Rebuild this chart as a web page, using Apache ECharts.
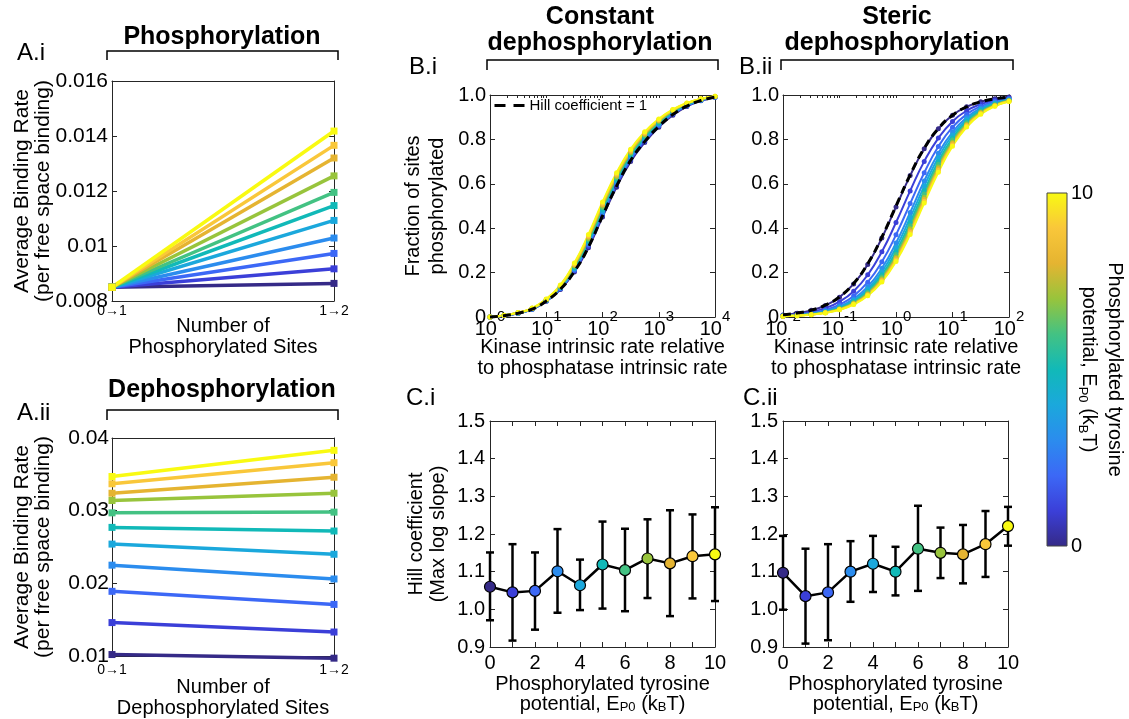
<!DOCTYPE html>
<html><head><meta charset="utf-8">
<script src="https://cdn.jsdelivr.net/npm/echarts@6/dist/echarts.min.js"></script>
<style>html,body{margin:0;padding:0;background:#fff}#c{width:1129px;height:719px}</style>
</head><body><div id="c"></div>
<script>
const FONT = "'Liberation Sans', Arial, Helvetica, sans-serif";

// ---------- data ----------
const ep0Values = [0,1,2,3,4,5,6,7,8,9,10];
const parulaColors = ['#352a87','#3b3fd8','#3c68f6','#2b8cee','#1ba8dc','#11b9b8','#43c283','#98c43c','#e5b431','#f9c73a','#f9fa12'];
const transitionLabels = ['0\u21921','1\u21922'];

const phosRateStart = [0.0085,0.0085,0.0085,0.0085,0.0085,0.0085,0.0085,0.0085,0.0085,0.0085,0.0085];
const phosRateEnd   = [0.00864,0.00917,0.00973,0.01029,0.01093,0.01147,0.01195,0.01255,0.0132,0.01366,0.01418];
const dephosRateStart = [0.0102,0.0146,0.0189,0.0225,0.0254,0.0277,0.0297,0.0314,0.0324,0.0337,0.0347];
const dephosRateEnd   = [0.0097,0.0133,0.0171,0.0206,0.0240,0.0272,0.0298,0.0324,0.0346,0.0366,0.0383];

const kinaseRatioConst  = [1,1.78,3.16,5.62,10,17.8,31.6,56.2,100,178,316,562,1000,1780,3160,5620,10000];
const kinaseRatioSteric = [0.01,0.0178,0.0316,0.0562,0.1,0.178,0.316,0.562,1,1.78,3.16,5.62,10,17.8,31.6,56.2,100];

// minor (log) tick positions on the top edge of the B panels
const logTicksConst  = [1,2,3,4,5,6,7,8,9,10,20,30,40,50,60,70,80,90,100,200,300,400,500,600,700,800,900,1000,2000,3000,4000,5000,6000,7000,8000,9000,10000];
const logTicksSteric = [0.01,0.02,0.03,0.04,0.05,0.06,0.07,0.08,0.09,0.1,0.2,0.3,0.4,0.5,0.6,0.7,0.8,0.9,1,2,3,4,5,6,7,8,9,10,20,30,40,50,60,70,80,90,100];

const fracConstHill1 = [0.000,0.006,0.017,0.035,0.072,0.125,0.205,0.315,0.455,0.590,0.705,0.790,0.858,0.912,0.950,0.975,0.990];
const fracConst = [
 [0.000,0.006,0.017,0.035,0.071,0.124,0.203,0.312,0.450,0.585,0.700,0.786,0.855,0.909,0.948,0.974,0.990],
 [0.000,0.006,0.017,0.035,0.072,0.126,0.207,0.318,0.457,0.592,0.706,0.791,0.859,0.912,0.950,0.975,0.990],
 [0.000,0.006,0.017,0.036,0.073,0.128,0.211,0.324,0.464,0.599,0.712,0.796,0.863,0.915,0.952,0.976,0.991],
 [0.000,0.006,0.018,0.036,0.074,0.130,0.215,0.330,0.471,0.606,0.718,0.801,0.867,0.918,0.954,0.977,0.991],
 [0.000,0.007,0.018,0.037,0.075,0.132,0.219,0.336,0.478,0.613,0.724,0.806,0.871,0.921,0.956,0.978,0.992],
 [0.000,0.007,0.018,0.037,0.076,0.134,0.223,0.342,0.485,0.620,0.730,0.811,0.875,0.924,0.958,0.979,0.992],
 [0.000,0.007,0.019,0.038,0.077,0.136,0.227,0.348,0.492,0.626,0.736,0.816,0.879,0.927,0.960,0.980,0.993],
 [0.000,0.007,0.019,0.038,0.078,0.138,0.231,0.354,0.499,0.632,0.741,0.821,0.883,0.929,0.961,0.981,0.993],
 [0.000,0.007,0.019,0.039,0.079,0.140,0.235,0.360,0.506,0.638,0.746,0.826,0.886,0.931,0.962,0.982,0.993],
 [0.000,0.007,0.020,0.039,0.080,0.142,0.239,0.366,0.512,0.644,0.751,0.830,0.889,0.933,0.963,0.982,0.994],
 [0.000,0.008,0.020,0.040,0.081,0.144,0.243,0.372,0.518,0.650,0.756,0.834,0.892,0.935,0.964,0.983,0.994]
];

const fracStericHill1 = [0.0099,0.0175,0.0307,0.0532,0.0909,0.151,0.240,0.360,0.500,0.640,0.760,0.849,0.909,0.947,0.969,0.983,0.990];
const fracSteric = [
 [0.0095,0.0170,0.0300,0.0522,0.0893,0.149,0.237,0.356,0.496,0.637,0.758,0.848,0.909,0.947,0.970,0.983,0.991],
 [0.0074,0.0130,0.0229,0.0400,0.0690,0.1164,0.1898,0.294,0.4255,0.568,0.701,0.806,0.881,0.929,0.959,0.977,0.987],
 [0.0058,0.0104,0.0183,0.0320,0.0556,0.0947,0.1568,0.2486,0.370,0.511,0.650,0.768,0.855,0.913,0.949,0.971,0.983],
 [0.0050,0.0088,0.0156,0.0273,0.0476,0.0816,0.1365,0.2195,0.3333,0.4706,0.6126,0.7376,0.8333,0.8989,0.9405,0.9657,0.9804],
 [0.0045,0.0080,0.0142,0.0249,0.0435,0.0748,0.1257,0.2036,0.3125,0.4470,0.5897,0.7188,0.8197,0.8899,0.9350,0.9623,0.9785],
 [0.0041,0.0074,0.0130,0.0229,0.0400,0.0690,0.1164,0.1898,0.2941,0.4256,0.5685,0.7009,0.8065,0.8811,0.9295,0.9591,0.9766],
 [0.0039,0.0069,0.0122,0.0216,0.0377,0.0652,0.1103,0.1807,0.2817,0.4108,0.5536,0.6880,0.7968,0.8746,0.9254,0.9566,0.9751],
 [0.0037,0.0065,0.0116,0.0204,0.0357,0.0618,0.1048,0.1724,0.2703,0.3971,0.5394,0.6756,0.7874,0.8682,0.9213,0.9542,0.9737],
 [0.0036,0.0063,0.0112,0.0197,0.0345,0.0597,0.1015,0.1672,0.2632,0.3884,0.5304,0.6676,0.7813,0.8639,0.9187,0.9526,0.9728],
 [0.0034,0.0061,0.0108,0.0190,0.0333,0.0578,0.0983,0.1624,0.2564,0.3801,0.5216,0.6597,0.7752,0.8598,0.9160,0.9510,0.9718],
 [0.0033,0.0059,0.0104,0.0184,0.0323,0.0560,0.0954,0.1579,0.2500,0.3721,0.5131,0.6521,0.7692,0.8556,0.9133,0.9494,0.9709]
];

const hillConstMean = [1.060,1.045,1.049,1.101,1.064,1.119,1.104,1.135,1.122,1.141,1.146];
const hillConstLow  = [0.971,0.917,0.946,0.991,0.998,1.002,0.995,1.030,0.982,1.029,1.022];
const hillConstHigh = [1.151,1.173,1.151,1.213,1.132,1.233,1.214,1.239,1.263,1.252,1.271];
const hillStericMean = [1.097,1.035,1.045,1.100,1.121,1.100,1.161,1.150,1.146,1.173,1.221];
const hillStericLow  = [0.999,0.909,0.918,1.020,1.046,1.037,1.049,1.083,1.069,1.086,1.169];
const hillStericHigh = [1.195,1.161,1.173,1.181,1.195,1.166,1.275,1.217,1.224,1.261,1.272];

const colorbarRange = [0, 10];

// ---------- helpers ----------
const AXC = '#262626';
const LINE = {show:true, onZero:false, lineStyle:{color:AXC, width:1}};
const TICK = {show:true, inside:true, length:5, lineStyle:{color:AXC, width:1}};
function axisPair(dim, gi, scale, label, name, mirrorTick){
  const pos = dim === 'x' ? ['bottom','top'] : ['left','right'];
  const main = Object.assign({gridIndex:gi, position:pos[0], axisLine:LINE, axisTick:TICK, splitLine:{show:false},
    nameMoveOverlap:false,
    axisLabel:Object.assign({color:'#000', fontFamily:FONT}, label)}, scale, name || {});
  const mirror = Object.assign({gridIndex:gi, position:pos[1], axisLine:LINE, axisTick:mirrorTick || TICK, splitLine:{show:false},
    axisLabel:{show:false}}, scale);
  return [main, mirror];
}
function nameCfg(text, gap, rotate, lh, size){
  return {name:text, nameLocation:'middle', nameGap:gap, nameRotate:rotate, nameMoveOverlap:false,
    nameTextStyle:{fontFamily:FONT, fontSize:size || 20, lineHeight:lh, color:'#000',
      rich:{s:{fontFamily:FONT, fontSize:13, lineHeight:13, verticalAlign:'bottom', color:'#000'}}}};
}
const supLabel = {margin:-8,
  formatter: v => '{b|10}{s|' + Math.round(Math.log10(v)) + '}',
  rich:{b:{fontFamily:FONT, fontSize:20, lineHeight:30, verticalAlign:'bottom', color:'#000'},
        s:{fontFamily:FONT, fontSize:15, lineHeight:15, verticalAlign:'top', color:'#000'}}};
const fracFmt = v => v === 0 ? '0' : v.toFixed(1);
const kinaseName = 'Kinase intrinsic rate relative\nto phosphatase intrinsic rate';
const ep0Name = 'Phosphorylated tyrosine\npotential, E{s|P0} (k{s|B}T)';
const rateName = 'Average Binding Rate\n(per free space binding)';
const logTopTick = vals => ({show:true, inside:true, length:3, customValues:vals, lineStyle:{color:AXC, width:1}});

const xAxes = [
  ...axisPair('x',0,{type:'category', data:transitionLabels, boundaryGap:false}, {fontSize:14, margin:3}, nameCfg('Number of\nPhosphorylated Sites',15,0,21)),
  ...axisPair('x',1,{type:'category', data:transitionLabels, boundaryGap:false}, {fontSize:14, margin:7}, nameCfg('Number of\nDephosphorylated Sites',21,0,21)),
  ...axisPair('x',2,{type:'log', logBase:10, min:1, max:10000}, supLabel, nameCfg(kinaseName,20,0,21), logTopTick(logTicksConst)),
  ...axisPair('x',3,{type:'log', logBase:10, min:0.01, max:100}, supLabel, nameCfg(kinaseName,20,0,21), logTopTick(logTicksSteric)),
  ...axisPair('x',4,{type:'value', min:0, max:10, interval:1}, {fontSize:20, margin:6, formatter:v => v % 2 === 0 ? String(v) : ''}, nameCfg(ep0Name,27,0,20)),
  ...axisPair('x',5,{type:'value', min:0, max:10, interval:1}, {fontSize:20, margin:6, formatter:v => v % 2 === 0 ? String(v) : ''}, nameCfg(ep0Name,27,0,20)),
  {gridIndex:6, type:'value', min:0, max:1, show:false}
];
const yAxes = [
  ...axisPair('y',0,{type:'value', min:0.008, max:0.016, interval:0.002}, {fontSize:21, margin:4, formatter:v => String(+v.toFixed(4))}, nameCfg(rateName,58,90,21,21)),
  ...axisPair('y',1,{type:'value', min:0.01, max:0.04, interval:0.01}, {fontSize:21, margin:3, formatter:v => String(+v.toFixed(4))}, nameCfg(rateName,58,90,21,21)),
  ...axisPair('y',2,{type:'value', min:0, max:1, interval:0.2}, {fontSize:20, margin:4, formatter:fracFmt}, nameCfg('Fraction of sites\nphosphorylated',41,90,24)),
  ...axisPair('y',3,{type:'value', min:0, max:1, interval:0.2}, {fontSize:20, margin:4, formatter:fracFmt}),
  ...axisPair('y',4,{type:'value', min:0.9, max:1.5, interval:0.1}, {fontSize:20, margin:5, formatter:v => v.toFixed(1)}, nameCfg('Hill coefficient\n(Max log slope)',41,90,22)),
  ...axisPair('y',5,{type:'value', min:0.9, max:1.5, interval:0.1}, {fontSize:20, margin:5, formatter:v => v.toFixed(1)}),
  Object.assign({gridIndex:6, type:'value', min:colorbarRange[0], max:colorbarRange[1], interval:10, position:'right',
    axisLine:{show:false}, axisTick:{show:false}, splitLine:{show:false},
    axisLabel:{fontSize:20, margin:4, color:'#000', fontFamily:FONT}}, nameCfg(ep0Name,9,-90,26))
];

const series = [];
// A.i / A.ii
ep0Values.forEach((e,k) => {
  const c = parulaColors[k];
  series.push({type:'line', name:'EP0 '+e, xAxisIndex:0, yAxisIndex:0, data:[phosRateStart[k], phosRateEnd[k]],
    symbol:'rect', symbolSize:7, lineStyle:{width:3.5, color:c}, itemStyle:{color:c}, clip:false});
  series.push({type:'line', name:'EP0 '+e, xAxisIndex:2, yAxisIndex:2, data:[dephosRateStart[k], dephosRateEnd[k]],
    symbol:'rect', symbolSize:7, lineStyle:{width:3.5, color:c}, itemStyle:{color:c}, clip:false});
});
// B.i / B.ii
function fracSeries(xi, xs, vals, k){
  const c = parulaColors[k];
  return {type:'line', name:'EP0 '+ep0Values[k], xAxisIndex:xi, yAxisIndex:xi, data:xs.map((x,i) => [x, vals[i]]),
    smooth:true, symbol:'circle', symbolSize:5, lineStyle:{width:2, color:c}, itemStyle:{color:c}, clip:false};
}
fracConst.forEach((v,k) => series.push(fracSeries(4, kinaseRatioConst, v, k)));
fracSteric.forEach((v,k) => series.push(fracSeries(6, kinaseRatioSteric, v, k)));
series.push({type:'line', name:'Hill coefficient = 1', xAxisIndex:4, yAxisIndex:4, data:kinaseRatioConst.map((x,i) => [x, fracConstHill1[i]]),
  smooth:true, symbol:'none', lineStyle:{width:3, color:'#000', type:[8,5]}, itemStyle:{color:'#000'}, clip:false, z:5});
series.push({type:'line', name:'Hill coefficient = 1', xAxisIndex:6, yAxisIndex:6, data:kinaseRatioSteric.map((x,i) => [x, fracStericHill1[i]]),
  smooth:true, symbol:'none', lineStyle:{width:3, color:'#000', type:[8,5]}, itemStyle:{color:'#000'}, clip:false, z:5});
// C.i / C.ii
function renderErrorBar(params, api){
  const x = api.value(0);
  const lo = api.coord([x, api.value(1)]), hi = api.coord([x, api.value(2)]);
  const w = 4, st = {stroke:'#000', lineWidth:2.5};
  return {type:'group', children:[
    {type:'line', shape:{x1:lo[0], y1:lo[1], x2:hi[0], y2:hi[1]}, style:st},
    {type:'line', shape:{x1:lo[0]-w, y1:lo[1], x2:lo[0]+w, y2:lo[1]}, style:st},
    {type:'line', shape:{x1:hi[0]-w, y1:hi[1], x2:hi[0]+w, y2:hi[1]}, style:st}
  ]};
}
function hillSeries(xi, mean, low, high){
  series.push({type:'custom', xAxisIndex:xi, yAxisIndex:xi, data:ep0Values.map((x,i) => [x, low[i], high[i]]),
    encode:{x:0, y:[1,2]}, renderItem:renderErrorBar, z:2});
  series.push({type:'line', xAxisIndex:xi, yAxisIndex:xi,
    data:ep0Values.map((x,i) => ({value:[x, mean[i]], itemStyle:{color:parulaColors[i]}})),
    symbol:'circle', symbolSize:11, lineStyle:{color:'#000', width:2.5}, itemStyle:{borderColor:'#000', borderWidth:1.2}, clip:false, z:3});
}
hillSeries(8, hillConstMean, hillConstLow, hillConstHigh);
hillSeries(10, hillStericMean, hillStericLow, hillStericHigh);
// colorbar
const cbStops = parulaColors.map((c,i) => ({offset:1 - i/(parulaColors.length-1), color:c}));
series.push({type:'custom', xAxisIndex:12, yAxisIndex:12, data:[[0, 1, colorbarRange[0], colorbarRange[1]]],
  encode:{x:[0,1], y:[2,3]},
  renderItem:(params, api) => {
    const p0 = api.coord([api.value(0), api.value(3)]);
    const p1 = api.coord([api.value(1), api.value(2)]);
    return {type:'rect', shape:{x:p0[0], y:p0[1], width:p1[0]-p0[0], height:p1[1]-p0[1]},
      style:{fill:new echarts.graphic.LinearGradient(0,0,0,1, cbStops), stroke:'#444', lineWidth:1}};
  }});

// ---------- decorations ----------
function txt(t, x, y, size, bold, align, lh){
  return {type:'text', x:x, y:y, silent:true, style:{text:t, fontFamily:FONT, fontSize:size, fontWeight:bold ? 'bold' : 'normal',
    fill:'#000', align:align || 'center', textAlign:align || 'center', verticalAlign:'middle', textVerticalAlign:'middle', lineHeight:lh || size}};
}
function bracket(x1, x2, y, drop){
  return {type:'polyline', silent:true, shape:{points:[[x1, y+drop],[x1, y],[x2, y],[x2, y+drop]]},
    style:{stroke:'#000', lineWidth:1.5, fill:null}};
}
const graphics = [
  txt('Phosphorylation', 222, 37, 25, true),
  txt('Dephosphorylation', 222, 390, 25, true),
  txt('Constant\ndephosphorylation', 600, 30, 25, true, 'center', 26),
  txt('Steric\ndephosphorylation', 897, 30, 25, true, 'center', 26),
  txt('A.i', 17, 53, 24, false, 'left'),
  txt('A.ii', 17, 413, 24, false, 'left'),
  txt('B.i', 409, 67, 24, false, 'left'),
  txt('B.ii', 739, 67, 24, false, 'left'),
  txt('C.i', 406, 398, 24, false, 'left'),
  txt('C.ii', 743, 398, 24, false, 'left'),
  bracket(107, 338, 51, 9),
  bracket(107, 338, 410, 10),
  bracket(487, 718, 60, 10),
  bracket(781, 1013, 60, 10)
];

const G = {outerBoundsMode:'none', containLabel:false};
const chart = echarts.init(document.getElementById('c'));
chart.setOption({
  animation:false,
  backgroundColor:'#fff',
  textStyle:{fontFamily:FONT},
  grid:[
    Object.assign({left:112, top:81, width:222, height:220}, G),
    Object.assign({left:112, top:438, width:222, height:218}, G),
    Object.assign({left:490, top:95, width:225, height:222}, G),
    Object.assign({left:783, top:95, width:226, height:222}, G),
    Object.assign({left:490, top:421, width:225, height:226}, G),
    Object.assign({left:783, top:421, width:225, height:226}, G),
    Object.assign({left:1047, top:193, width:20, height:353}, G)
  ],
  legend:{data:['Hill coefficient = 1'], left:493, top:98, padding:0, itemWidth:30, itemHeight:10, itemGap:4,
    itemStyle:{opacity:0}, lineStyle:{type:[11,8], width:3},
    textStyle:{fontFamily:FONT, fontSize:15, color:'#000'}, selectedMode:false},
  xAxis:xAxes,
  yAxis:yAxes,
  series:series,
  graphic:graphics
});
</script>
</body></html>
